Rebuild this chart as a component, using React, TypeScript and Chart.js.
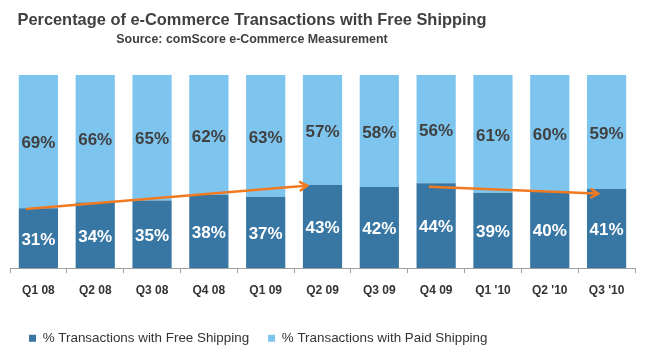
import React, { useEffect, useRef } from 'react';
import { Chart, registerables } from 'chart.js';

Chart.register(...registerables);

const categories = ['Q1 08', 'Q2 08', 'Q3 08', 'Q4 08', 'Q1 09', 'Q2 09', 'Q3 09', 'Q4 09', "Q1 '10", "Q2 '10", "Q3 '10"];
const freeShipping = [31, 34, 35, 38, 37, 43, 42, 44, 39, 40, 41];
const paidShipping = [69, 66, 65, 62, 63, 57, 58, 56, 61, 60, 59];
const seriesNames = ['% Transactions with Free Shipping', '% Transactions with Paid Shipping'];
const titleText = 'Percentage of e-Commerce Transactions with Free Shipping';
const subtitleText = 'Source: comScore e-Commerce Measurement';
// trend arrows, in (category index, percent value) data coordinates
const arrowFromIndex = [-0.22, 6.87];
const arrowFromValue = [30.7, 42.2];
const arrowToIndex = [4.73, 9.85];
const arrowToValue = [42.7, 38.6];

const FONT = '"Liberation Sans", Arial, Helvetica, sans-serif';
const DARK = '#3876A3';
const LIGHT = '#7DC5EE';
const ORANGE = '#F07A22';

const titlePlugin = {
  id: 'customTitle',
  afterDraw(chart: any) {
    const ctx = chart.ctx;
    ctx.save();
    ctx.fillStyle = '#404040';
    ctx.textAlign = 'center';
    ctx.textBaseline = 'middle';
    ctx.font = `bold 16.4px ${FONT}`;
    ctx.fillText(titleText, 252, 20);
    ctx.font = `bold 12.4px ${FONT}`;
    ctx.fillText(subtitleText, 252, 40);
    ctx.restore();
  },
};

const labelPlugin = {
  id: 'segLabels',
  afterDatasetsDraw(chart: any) {
    const ctx = chart.ctx;
    ctx.save();
    ctx.font = `bold 17px ${FONT}`;
    ctx.textAlign = 'center';
    ctx.textBaseline = 'middle';
    chart.data.datasets.forEach((ds: any, di: number) => {
      const meta = chart.getDatasetMeta(di);
      ctx.fillStyle = di === 0 ? '#FFFFFF' : '#404040';
      meta.data.forEach((el: any, i: number) => {
        const p = el.getCenterPoint();
        ctx.fillText(ds.data[i] + '%', p.x, p.y + 2);
      });
    });
    ctx.restore();
  },
};

const arrowPlugin = {
  id: 'trendArrows',
  afterDatasetsDraw(chart: any) {
    const ctx = chart.ctx;
    const xs = chart.scales.x;
    const ys = chart.scales.y;
    ctx.save();
    ctx.strokeStyle = ORANGE;
    ctx.lineWidth = 2.5;
    ctx.lineCap = 'butt';
    ctx.lineJoin = 'miter';
    for (let i = 0; i < arrowFromIndex.length; i++) {
      const x1 = xs.getPixelForValue(arrowFromIndex[i]);
      const y1 = ys.getPixelForValue(arrowFromValue[i]);
      const x2 = xs.getPixelForValue(arrowToIndex[i]);
      const y2 = ys.getPixelForValue(arrowToValue[i]);
      const ang = Math.atan2(y2 - y1, x2 - x1);
      ctx.beginPath();
      ctx.moveTo(x1, y1);
      ctx.lineTo(x2 - 1.5 * Math.cos(ang), y2 - 1.5 * Math.sin(ang));
      ctx.stroke();
      const len = 9;
      const spread = 0.55;
      ctx.beginPath();
      ctx.moveTo(x2 - len * Math.cos(ang - spread), y2 - len * Math.sin(ang - spread));
      ctx.lineTo(x2, y2);
      ctx.lineTo(x2 - len * Math.cos(ang + spread), y2 - len * Math.sin(ang + spread));
      ctx.stroke();
    }
    ctx.restore();
  },
};

export default function App() {
  const ref = useRef<HTMLCanvasElement>(null);

  useEffect(() => {
    if (!ref.current) return;
    const chart = new Chart(ref.current, {
      type: 'bar',
      data: {
        labels: categories,
        datasets: [
          {
            label: seriesNames[0],
            data: freeShipping,
            backgroundColor: DARK,
            barPercentage: 0.69,
            categoryPercentage: 1,
          },
          {
            label: seriesNames[1],
            data: paidShipping,
            backgroundColor: LIGHT,
            barPercentage: 0.69,
            categoryPercentage: 1,
          },
        ],
      },
      options: {
        animation: false,
        responsive: false,
        devicePixelRatio: 1,
        layout: { padding: { left: 10, right: 11, top: 75, bottom: -2 } },
        scales: {
          x: {
            stacked: true,
            grid: {
              display: true,
              drawOnChartArea: false,
              drawTicks: true,
              tickLength: 5,
              color: '#A0A0A0',
              offset: true,
            },
            border: { display: true, color: '#A0A0A0', width: 1 },
            ticks: {
              color: '#333333',
              font: { family: FONT, size: 12, weight: 'bold' },
              padding: 10,
              maxRotation: 0,
              autoSkip: false,
            },
            afterFit: (scale: any) => {
              scale.height += 5;
            },
          },
          y: {
            stacked: true,
            display: false,
            min: 0,
            max: 100,
          },
        },
        plugins: {
          legend: {
            display: true,
            position: 'bottom',
            align: 'start',
            labels: {
              boxWidth: 7,
              boxHeight: 7,
              padding: 19,
              color: '#333333',
              font: { family: FONT, size: 13.4, lineHeight: 1 },
            },
          },
          title: { display: false },
          tooltip: { enabled: false },
        },
      },
      plugins: [labelPlugin, arrowPlugin, titlePlugin],
    } as any);
    return () => chart.destroy();
  }, []);

  return (
    <div style={{ position: 'fixed', left: 0, top: 0, width: 646, height: 353, background: '#FFFFFF' }}>
      <canvas ref={ref} width={646} height={353} style={{ display: 'block', width: 646, height: 353 }} />
    </div>
  );
}
